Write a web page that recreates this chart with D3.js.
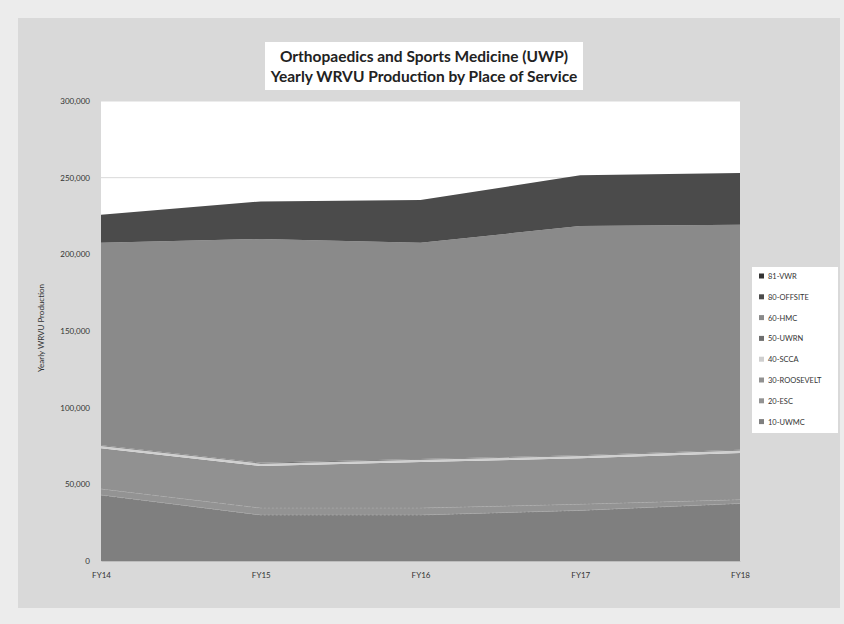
<!DOCTYPE html>
<html>
<head>
<meta charset="utf-8">
<script src="https://cdn.jsdelivr.net/npm/d3@7"></script>
<style>
  html, body { margin: 0; padding: 0; background: #ececec; }
  svg { display: block; }
  text { font-family: Lato, "Open Sans", "DejaVu Sans", sans-serif; }
</style>
</head>
<body>
<svg id="chart" width="844" height="624"></svg>
<script>
// Fiscal years on the x axis
const years = ["FY14", "FY15", "FY16", "FY17", "FY18"];

// Places of service, bottom of the stack first
const places = ["10-UWMC", "20-ESC", "30-ROOSEVELT", "40-SCCA", "50-UWRN", "60-HMC", "80-OFFSITE", "81-VWR"];

// Yearly wRVU production for each place of service
const uwmc      = [43000, 30000, 30000, 33000, 37500];
const esc       = [4000, 4500, 4500, 4000, 2500];
const roosevelt = [26500, 27500, 30000, 30000, 30500];
const scca      = [1500, 1500, 1500, 1500, 1500];
const uwrn      = [500, 500, 500, 500, 500];
const hmc       = [132000, 146000, 141000, 149500, 146800];
const offsite   = [18300, 24500, 28000, 33000, 33700];
const vwr       = [0, 0, 0, 0, 0];

const seriesValues = [uwmc, esc, roosevelt, scca, uwrn, hmc, offsite, vwr];

// Fill for each place of service (same order as places)
const fills = ["#7f7f7f", "#939393", "#919191", "#cfcfcf", "#6e6e6e", "#8a8a8a", "#4b4b4b", "#333333"];

const yTicks = [0, 50000, 100000, 150000, 200000, 250000, 300000];

const titleLines = ["Orthopaedics and Sports Medicine (UWP)", "Yearly WRVU Production by Place of Service"];
const yTitle = "Yearly WRVU Production";

// Build one row per year for the stack generator
const rows = years.map((yr, i) => {
  const r = { year: yr };
  places.forEach((p, k) => { r[p] = seriesValues[k][i]; });
  return r;
});

const svg = d3.select("#chart");

// Chart panel
svg.append("rect").attr("x", 18).attr("y", 18).attr("width", 822).attr("height", 590).attr("fill", "#d9d9d9");

const plot = { left: 101, right: 740, top: 101, bottom: 561 };

const x = d3.scalePoint().domain(years).range([plot.left, plot.right]);
const y = d3.scaleLinear().domain([0, 300000]).range([plot.bottom, plot.top]);

// Plot background
svg.append("rect")
  .attr("x", plot.left).attr("y", plot.top)
  .attr("width", plot.right - plot.left).attr("height", plot.bottom - plot.top)
  .attr("fill", "#ffffff");

// Horizontal gridlines
svg.append("g").selectAll("line").data(yTicks).join("line")
  .attr("x1", plot.left).attr("x2", plot.right)
  .attr("y1", d => y(d)).attr("y2", d => y(d))
  .attr("stroke", "#d9d9d9").attr("stroke-width", 1);

// Stacked areas
const stack = d3.stack().keys(places);
const layers = stack(rows);
const area = d3.area()
  .x(d => x(d.data.year))
  .y0(d => y(d[0]))
  .y1(d => y(d[1]));

svg.append("g").selectAll("path").data(layers).join("path")
  .attr("d", area)
  .attr("fill", (d, i) => fills[i]);

// Faint dotted edges along the thin 20-ESC band
const escLayer = layers[places.indexOf("20-ESC")];
const edge = key => d3.line().x(d => x(d.data.year)).y(d => y(d[key]));
[0, 1].forEach(k => {
  svg.append("path")
    .attr("d", edge(k)(escLayer))
    .attr("fill", "none")
    .attr("stroke", "#a4a4a4")
    .attr("stroke-width", 1)
    .attr("stroke-dasharray", "2,2");
});

// Y axis
const yAxis = d3.axisLeft(y).tickValues(yTicks).tickFormat(d3.format(",")).tickSize(0).tickPadding(11);
const gy = svg.append("g").attr("transform", `translate(${plot.left},0)`).call(yAxis);
gy.select(".domain").remove();
gy.selectAll("text").attr("font-size", 8).attr("fill", "#333333");

// X axis
const xAxis = d3.axisBottom(x).tickSize(0).tickPadding(11);
const gx = svg.append("g").attr("transform", `translate(0,${plot.bottom})`).call(xAxis);
gx.select(".domain").attr("stroke", "#bdbdbd");
gx.selectAll("text").attr("font-size", 8).attr("fill", "#333333");

// Y axis title
svg.append("text")
  .attr("transform", `translate(44,328) rotate(-90)`)
  .attr("text-anchor", "middle")
  .attr("font-size", 8)
  .attr("fill", "#333333")
  .text(yTitle);

// Title box
svg.append("rect").attr("x", 265).attr("y", 42).attr("width", 318).attr("height", 48).attr("fill", "#ffffff");
svg.append("g").selectAll("text").data(titleLines).join("text")
  .attr("x", 424).attr("y", (d, i) => 62 + i * 20)
  .attr("text-anchor", "middle")
  .attr("font-size", 15.5)
  .attr("font-weight", "bold")
  .attr("fill", "#222222")
  .text(d => d);

// Legend, top entry is the top of the stack
const legendItems = places.map((p, i) => ({ name: p, fill: fills[i] })).reverse();
svg.append("rect").attr("x", 752).attr("y", 267).attr("width", 86).attr("height", 166).attr("fill", "#ffffff");
const lg = svg.append("g").selectAll("g").data(legendItems).join("g")
  .attr("transform", (d, i) => `translate(759,${276 + i * 20.8})`);
lg.append("rect").attr("x", 0).attr("y", -2.5).attr("width", 5).attr("height", 5).attr("fill", d => d.fill);
lg.append("text").attr("x", 9).attr("y", 3).attr("font-size", 7.5).attr("fill", "#333333").text(d => d.name);
</script>
</body>
</html>
